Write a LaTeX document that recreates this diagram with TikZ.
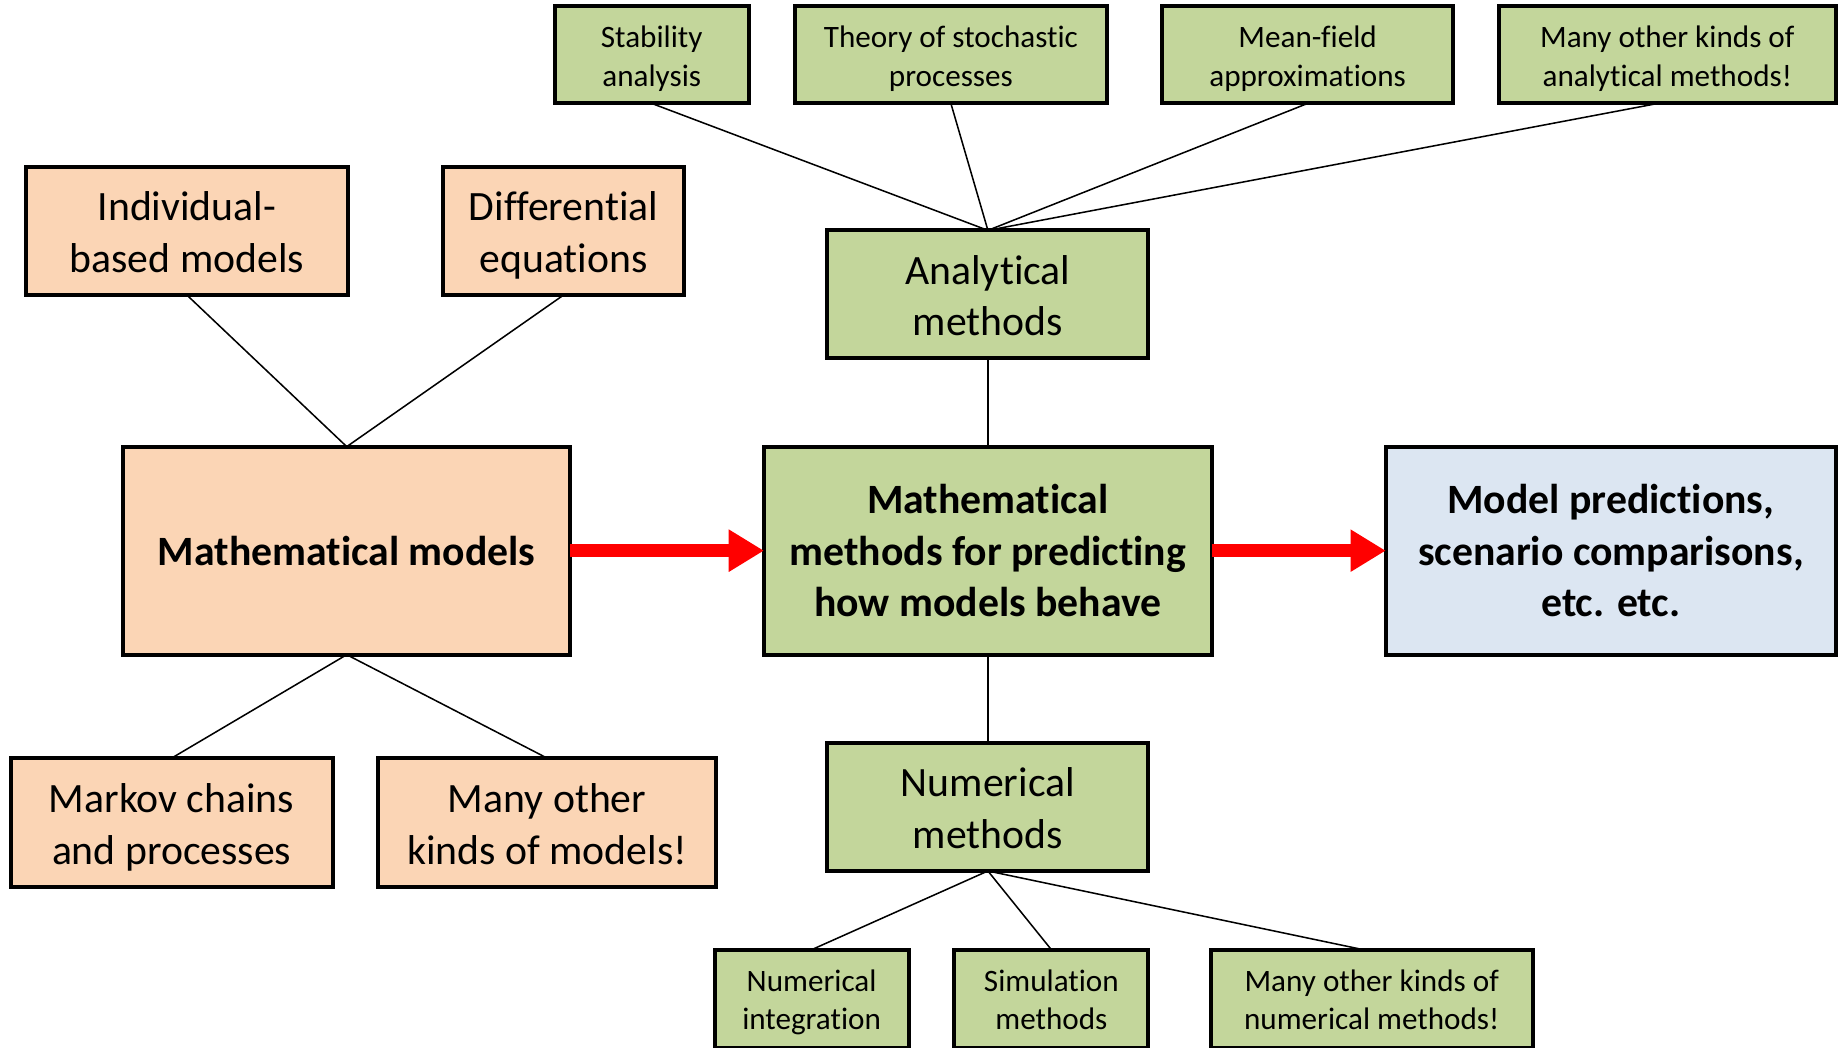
\documentclass[tikz,border=0pt]{standalone}
\usepackage{fontspec}
\setmainfont[Ligatures={NoCommon}]{Carlito}
\usetikzlibrary{arrows.meta,backgrounds}
\definecolor{ofill}{HTML}{FBD5B5}
\definecolor{gfill}{HTML}{C3D69B}
\definecolor{bfill}{HTML}{DCE6F2}
\newcommand\lowtxt[2]{\raisebox{-#1}[\height][\depth]{\begin{tabular}{@{}c@{}}#2\end{tabular}}}
\begin{document}
\begin{tikzpicture}[x=1pt,y=-1pt,
 box/.style={draw=black,line width=3.4pt,rectangle,inner sep=0pt,outer sep=0pt,align=center},
 smalltxt/.style={font=\fontsize{26.5}{32.5}\selectfont},
 medtxt/.style={font=\fontsize{35.5}{44}\selectfont},
 bigtxt/.style={font=\fontsize{35.5}{44}\selectfont\bfseries},
 conn/.style={line width=1.3pt,draw=black},
 flow/.style={draw=red,line width=11pt,-{Triangle[length=30pt,width=34pt]}}]
\useasboundingbox (0,0) rectangle (1568,891);
\clip (0,0) rectangle (1568,891);
% top analytical methods
\node[box,smalltxt,fill=gfill,minimum width=165pt,minimum height=83pt] (stab) at (554.5,46.5) {\lowtxt{4pt}{Stability\\analysis}};
\node[box,smalltxt,fill=gfill,minimum width=266pt,minimum height=83pt] (theory) at (809,46.5) {\lowtxt{4pt}{Theory of stochastic\\processes}};
\node[box,smalltxt,fill=gfill,minimum width=247pt,minimum height=83pt] (mean) at (1112.5,46.5) {\lowtxt{4pt}{Mean-field\\approximations}};
\node[box,smalltxt,fill=gfill,minimum width=287pt,minimum height=83pt] (manyA) at (1418.5,46.5) {\lowtxt{4pt}{Many other kinds of\\analytical methods!}};
% model kinds
\node[box,medtxt,fill=ofill,minimum width=274pt,minimum height=109pt] (ibm) at (159,196.5) {\lowtxt{4.5pt}{Individual-\\based models}};
\node[box,medtxt,fill=ofill,minimum width=205pt,minimum height=109pt] (de) at (479.5,196.5) {\lowtxt{4.5pt}{Differential\\equations}};
\node[box,medtxt,fill=ofill,minimum width=274pt,minimum height=110pt] (markov) at (146,700) {\lowtxt{4.5pt}{Markov chains\\and processes}};
\node[box,medtxt,fill=ofill,minimum width=287pt,minimum height=110pt] (manyM) at (465.5,700) {\lowtxt{4.5pt}{Many other\\kinds of models!}};
% analytical / numerical
\node[box,medtxt,fill=gfill,minimum width=273pt,minimum height=109pt] (anal) at (840.5,250.5) {\lowtxt{4.5pt}{Analytical\\methods}};
\node[box,medtxt,fill=gfill,minimum width=273pt,minimum height=109pt] (num) at (840.5,686.5) {\lowtxt{4.5pt}{Numerical\\methods}};
% main row
\node[box,bigtxt,fill=ofill,minimum width=380pt,minimum height=177pt] (mm) at (295,468.5) {Mathematical models};
\node[box,bigtxt,fill=gfill,minimum width=381pt,minimum height=177pt] (meth) at (840.5,468.5) {Mathematical\\methods for predicting\\how models behave};
\node[box,bigtxt,fill=bfill,minimum width=383pt,minimum height=177pt] (pred) at (1370.5,468.5) {Model predictions,\\scenario comparisons,\\etc. etc.};
% bottom numerical methods
\node[box,smalltxt,fill=gfill,minimum width=165pt,minimum height=84pt] (ni) at (690.5,850) {\lowtxt{3pt}{Numerical\\integration}};
\node[box,smalltxt,fill=gfill,minimum width=165pt,minimum height=84pt] (sim) at (894.5,850) {\lowtxt{3pt}{Simulation\\methods}};
\node[box,smalltxt,fill=gfill,minimum width=274pt,minimum height=84pt] (manyN) at (1167,850) {\lowtxt{3pt}{Many other kinds of\\numerical methods!}};
% connectors
\begin{scope}[on background layer]
\draw[conn] (stab.south) -- (anal.north);
\draw[conn] (theory.south) -- (anal.north);
\draw[conn] (mean.south) -- (anal.north);
\draw[conn] ([xshift=-8pt]manyA.south) -- (anal.north);
\draw[conn] (ibm.south) -- (mm.north);
\draw[conn] (de.south) -- (mm.north);
\draw[conn] (mm.south) -- (markov.north);
\draw[conn] (mm.south) -- (manyM.north);
\draw[conn] (anal.south) -- (meth.north);
\draw[conn] (meth.south) -- (num.north);
\draw[conn] (num.south) -- (ni.north);
\draw[conn] (num.south) -- (sim.north);
\draw[conn] (num.south) -- ([xshift=-7pt]manyN.north);
\end{scope}
\draw[flow] (mm.east) -- (meth.west);
\draw[flow] (meth.east) -- (pred.west);
\end{tikzpicture}
\end{document}
